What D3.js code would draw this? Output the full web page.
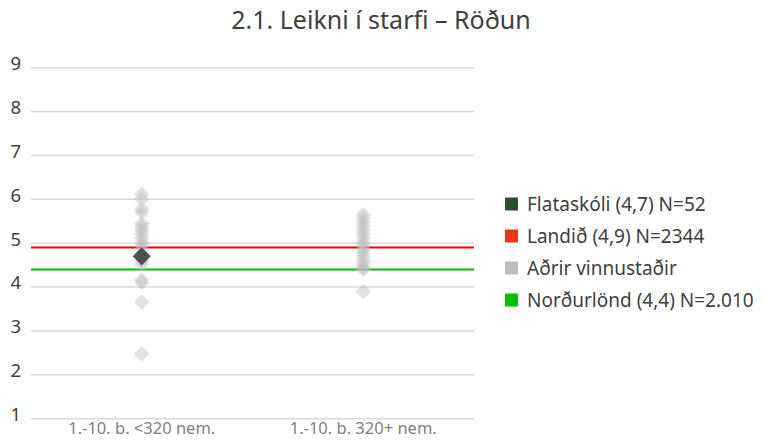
<!DOCTYPE html>
<html>
<head>
<meta charset="utf-8">
<script src="https://cdn.jsdelivr.net/npm/d3@7/dist/d3.min.js"></script>
<style>
  body { margin: 0; background: #fff; }
  svg { font-family: "Noto Sans", "Open Sans", sans-serif; }
</style>
</head>
<body>
<div id="chart"></div>
<script>
'use strict';

// categories on the x axis
var categories = ["1.-10. b. <320 nem.", "1.-10. b. 320+ nem."];

// other workplaces (grey diamonds), one array per category
var othersSmall = [6.12, 6.0, 5.78, 5.7, 5.45, 5.38, 5.3, 5.22, 5.12, 5.02, 4.95, 4.85, 4.6, 4.52, 4.16, 4.1, 3.66, 2.48];
var othersLarge = [5.65, 5.57, 5.48, 5.4, 5.3, 5.22, 5.12, 5.02, 4.95, 4.86, 4.78, 4.7, 4.6, 4.52, 4.45, 4.4, 3.9];

// the school itself
var schoolValue = 4.7;
var schoolCategory = 0;

// reference lines
var countryValue = 4.9;
var nordicValue = 4.4;

var yTicks = [1, 2, 3, 4, 5, 6, 7, 8, 9];

var legendLabels = ["Flataskóli (4,7) N=52", "Landið (4,9) N=2344", "Aðrir vinnustaðir", "Norðurlönd (4,4) N=2.010"];
var legendColors = ["#2e4f2e", "#e03a18", "#bdbdbd", "#00c000"];

var width = 764, height = 441;
var margin = {top: 67.7, right: 290, bottom: 22.3, left: 31};

var svg = d3.select("#chart").append("svg")
    .attr("width", width)
    .attr("height", height);

// title
svg.append("text")
    .attr("x", 381)
    .attr("y", 29)
    .attr("text-anchor", "middle")
    .attr("font-size", 25)
    .attr("fill", "#404040")
    .text("2.1. Leikni í starfi – Röðun");

var x = d3.scaleBand().domain(d3.range(categories.length)).range([margin.left, width - margin.right]);
var y = d3.scaleLinear().domain([1, 9]).range([height - margin.bottom, margin.top]);

// gridlines
svg.append("g").selectAll("line")
    .data(yTicks)
    .join("line")
    .attr("x1", margin.left)
    .attr("x2", width - margin.right)
    .attr("y1", function(d) { return y(d); })
    .attr("y2", function(d) { return y(d); })
    .attr("stroke", "#d9d9d9")
    .attr("stroke-width", 1.5);

// y axis labels
var yAxis = svg.append("g")
    .attr("transform", "translate(" + (margin.left - 10) + ",0)")
    .call(d3.axisLeft(y).tickValues(yTicks).tickSize(0).tickPadding(0).tickFormat(d3.format("d")));
yAxis.select(".domain").remove();
yAxis.selectAll("text")
    .attr("font-family", "'Noto Sans', sans-serif")
    .attr("font-size", 18.5)
    .attr("fill", "#404040")
    .attr("dy", "0.1em");

// x axis labels
var xAxis = svg.append("g")
    .attr("transform", "translate(0," + (height - margin.bottom) + ")")
    .call(d3.axisBottom(x).tickSize(0).tickPadding(4).tickFormat(function(i) { return categories[i]; }));
xAxis.select(".domain").remove();
xAxis.selectAll("text")
    .attr("font-family", "'Noto Sans', sans-serif")
    .attr("font-size", 16.5)
    .attr("fill", "#7f7f7f");

// reference lines
svg.append("line")
    .attr("x1", margin.left).attr("x2", width - margin.right)
    .attr("y1", y(countryValue)).attr("y2", y(countryValue))
    .attr("stroke", "#ff0000").attr("stroke-width", 2);
svg.append("line")
    .attr("x1", margin.left).attr("x2", width - margin.right)
    .attr("y1", y(nordicValue)).attr("y2", y(nordicValue))
    .attr("stroke", "#00c000").attr("stroke-width", 2);

// grey diamonds
var diamond = d3.symbol().type(d3.symbolSquare);
var others = [];
othersSmall.forEach(function(v) { others.push({c: 0, v: v}); });
othersLarge.forEach(function(v) { others.push({c: 1, v: v}); });

svg.append("g").selectAll("path")
    .data(others)
    .join("path")
    .attr("d", diamond.size(120))
    .attr("transform", function(d) {
        return "translate(" + (x(d.c) + x.bandwidth() / 2) + "," + y(d.v) + ") rotate(45)";
    })
    .attr("fill", "#bfbfbf")
    .attr("fill-opacity", 0.45);

// school diamond
svg.append("path")
    .attr("d", d3.symbol().type(d3.symbolSquare).size(165)())
    .attr("transform", "translate(" + (x(schoolCategory) + x.bandwidth() / 2) + "," + y(schoolValue) + ") rotate(45)")
    .attr("fill", "#505050");

// legend
var legend = svg.append("g").selectAll("g")
    .data(legendLabels)
    .join("g")
    .attr("transform", function(d, i) { return "translate(505," + (204 + i * 32) + ")"; });
legend.append("rect")
    .attr("x", 0).attr("y", -6.5)
    .attr("width", 13).attr("height", 13)
    .attr("fill", function(d, i) { return legendColors[i]; });
legend.append("text")
    .attr("x", 22)
    .attr("y", 0)
    .attr("dy", "0.35em")
    .attr("font-size", 19)
    .attr("fill", "#404040")
    .text(function(d) { return d; });
</script>
</body>
</html>
